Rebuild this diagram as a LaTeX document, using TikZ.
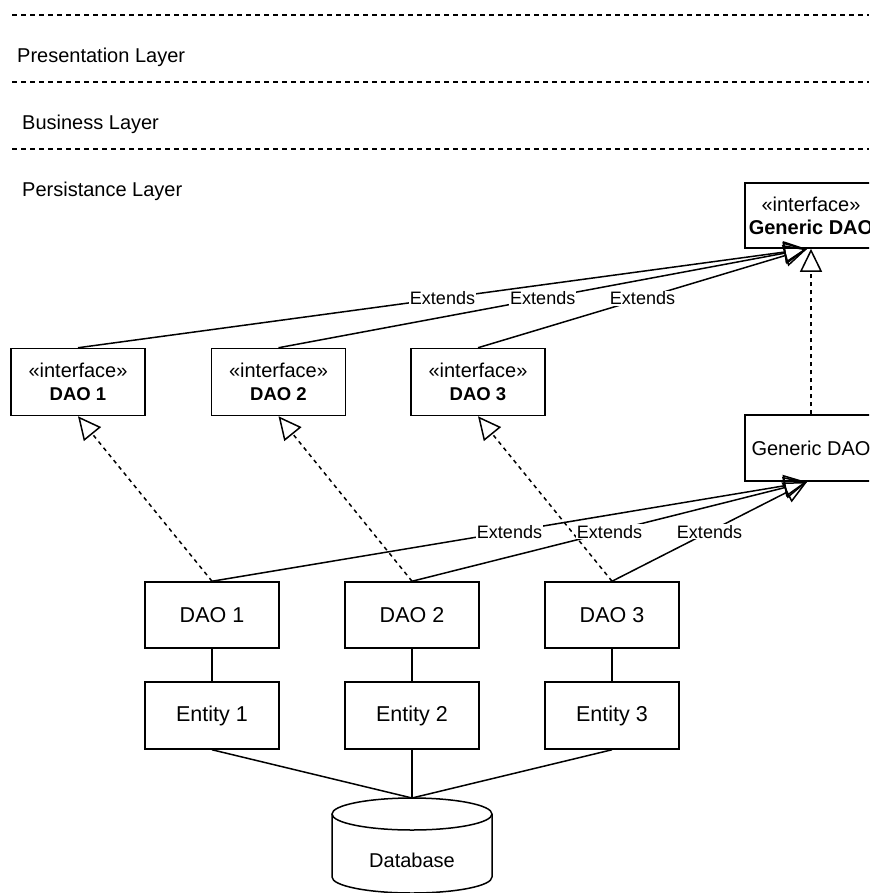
\documentclass[tikz,border=0pt]{standalone}
\usepackage{fontspec}
\setmainfont{Liberation Sans}
\usetikzlibrary{arrows.meta}
\newcommand{\ifname}[1]{{\fontsize{18.5}{23}\selectfont\textbf{#1}}}
\begin{document}
\begin{tikzpicture}[x=1pt,y=-1pt,
  every node/.style={font=\fontsize{20}{23}\selectfont},
  ln/.style={line width=1.5pt, draw=black},
  box/.style={draw=black, line width=1.5pt, minimum width=134pt, minimum height=67pt, inner sep=0pt, align=center, fill=white},
  cls/.style={box, font=\fontsize{21.5}{24}\selectfont},
  layer/.style={line width=1.5pt, dash pattern=on 5pt off 4pt},
  real/.style={line width=1.5pt, dash pattern=on 4pt off 4pt, -{Triangle[open, length=23pt, width=22pt, line width=1.5pt]}},
  gen/.style={line width=1.5pt, -{Triangle[open, length=23pt, width=22pt, line width=1.5pt]}},
  lbl/.style={fill=white, inner sep=1pt, font=\fontsize{18}{20}\selectfont},
  layertxt/.style={anchor=west, inner sep=0pt}]
\clip (0,0) rectangle (869,893);
\fill[white] (0,0) rectangle (869,893);

% layer separators
\coordinate (l1a) at (12,15);  \coordinate (l1b) at (869,15);
\coordinate (l2a) at (12,82);  \coordinate (l2b) at (869,82);
\coordinate (l3a) at (12,149); \coordinate (l3b) at (869,149);
\draw[layer] (l1a) -- (l1b);
\draw[layer] (l2a) -- (l2b);
\draw[layer] (l3a) -- (l3b);
\node[layertxt] (pres) at (17,57) {Presentation Layer};
\node[layertxt] (bus) at (22,124) {Business Layer};
\node[layertxt] (pers) at (22,191) {Persistance Layer};

% interfaces
\node[box, minimum width=132pt, minimum height=65pt] (gi) at (811,215.5) {«interface»\\\textbf{Generic DAO}};
\node[box] (i1) at (78,382) {«interface»\\\ifname{DAO 1}};
\node[box] (i2) at (278.5,382) {«interface»\\\ifname{DAO 2}};
\node[box] (i3) at (478,382) {«interface»\\\ifname{DAO 3}};

% implementations
\node[box, minimum width=132pt, minimum height=66pt] (gc) at (811,448) {Generic DAO};
\node[cls, minimum height=66pt] (d1) at (212,615) {DAO 1};
\node[cls, minimum height=66pt] (d2) at (412,615) {DAO 2};
\node[cls, minimum height=66pt] (d3) at (612,615) {DAO 3};
\node[cls] (e1) at (212,715.5) {Entity 1};
\node[cls] (e2) at (412,715.5) {Entity 2};
\node[cls] (e3) at (612,715.5) {Entity 3};

% database cylinder
\draw[ln, fill=white] (332,814) -- (332,877) arc[start angle=180, end angle=0, x radius=80, y radius=16] -- (492,814);
\draw[ln] (412,814) ellipse [x radius=80, y radius=16];
\coordinate (dbtop) at (412,798);
\node (db) at (412,860) {Database};

% arrow targets on the generic DAO boxes
\coordinate (gix) at (807,249);
\coordinate (gcx) at (807,482);

% realizations
\draw[real] (gc.north) -- (gi.south);
\draw[real] (d1.north) -- (i1.south);
\draw[real] (d2.north) -- (i2.south);
\draw[real] (d3.north) -- (i3.south);

% generalizations
\draw[gen] (i1.north) -- node[lbl]{Extends} (gix);
\draw[gen] (i2.north) -- node[lbl]{Extends} (gix);
\draw[gen] (i3.north) -- node[lbl]{Extends} (gix);
\draw[gen] (d1.north) -- node[lbl]{Extends} (gcx);
\draw[gen] (d2.north) -- node[lbl]{Extends} (gcx);
\draw[gen] (d3.north) -- node[lbl]{Extends} (gcx);

% associations
\draw[ln] (d1.south) -- (e1.north);
\draw[ln] (d2.south) -- (e2.north);
\draw[ln] (d3.south) -- (e3.north);
\draw[ln] (e1.south) -- (dbtop);
\draw[ln] (e2.south) -- (dbtop);
\draw[ln] (e3.south) -- (dbtop);
\end{tikzpicture}
\end{document}
